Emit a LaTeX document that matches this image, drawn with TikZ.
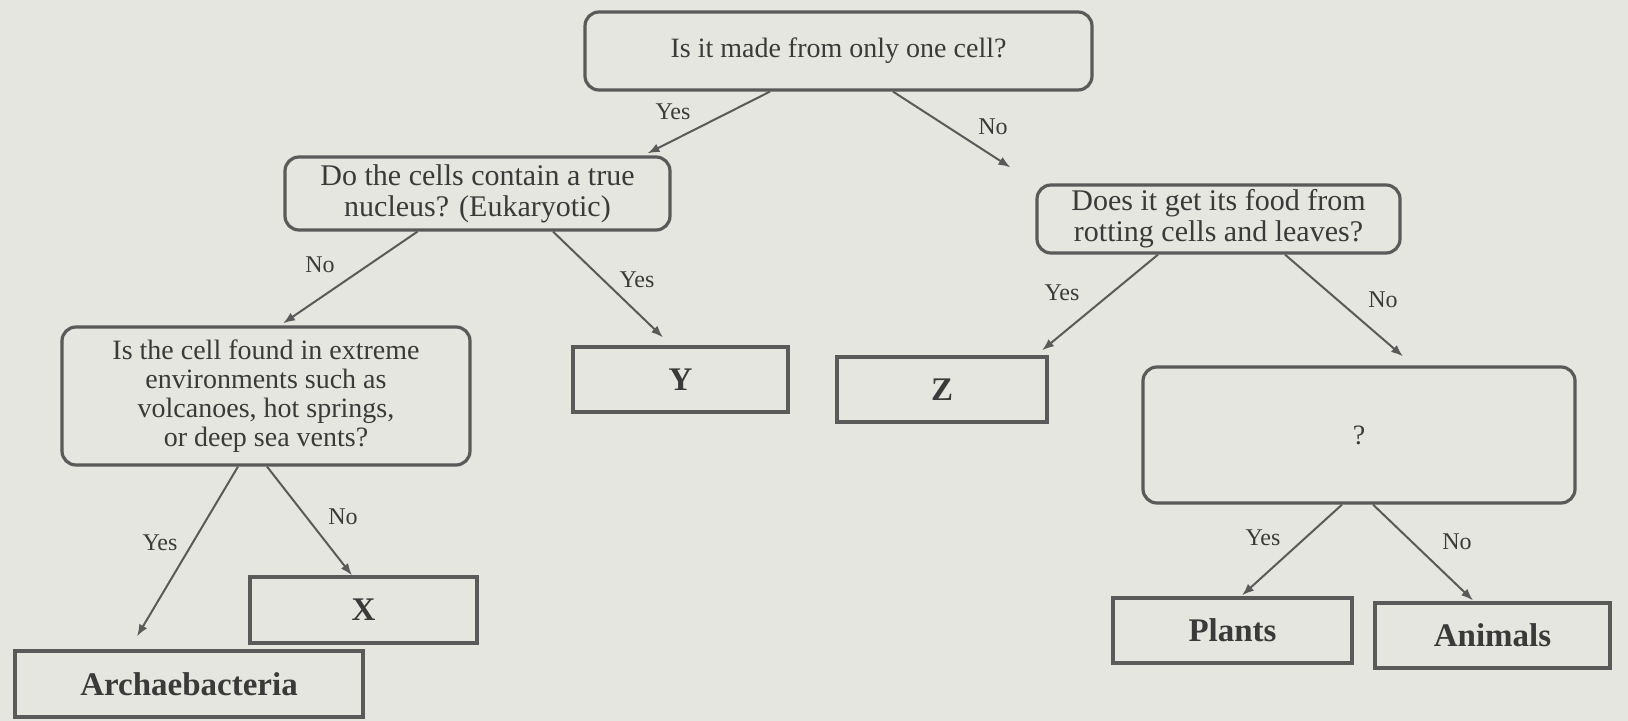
\documentclass[tikz,border=0pt]{standalone}
\usepackage{fontspec}
\setmainfont{Liberation Serif}
\usetikzlibrary{arrows.meta,calc}
\definecolor{paper}{HTML}{E6E6E0}
\definecolor{ink}{HTML}{5A5A5A}
\definecolor{txt}{HTML}{3A3A3A}
\tikzset{
  qbox/.style={draw=ink, line width=1.6pt, rounded corners=7pt, align=center, inner sep=2pt, text=txt, font=\fontsize{14}{15}\selectfont},
  abox/.style={draw=ink, line width=1.6pt, align=center, inner sep=2pt, text=txt, font=\fontsize{16.5}{18}\selectfont\bfseries},
  link/.style={draw=ink, line width=1pt, -{Latex[length=6pt,width=4.5pt]}},
  lbl/.style={text=txt, font=\fontsize{12}{13}\selectfont, inner sep=0pt}
}
\begin{document}
\begin{tikzpicture}[x=0.5pt,y=-0.5pt]
\fill[paper] (0,0) rectangle (1628,721);
\useasboundingbox (0,0) rectangle (1628,721);
% question boxes
\node[qbox, minimum width=253.5pt, minimum height=39pt] (top) at (838.5,51) {Is it made from only one cell?};
\node[qbox, minimum width=192.5pt, minimum height=36.5pt, font=\fontsize{15}{15.5}\selectfont] (q1) at (477.5,193.5) {Do the cells contain a true\\nucleus? (Eukaryotic)};
\node[qbox, minimum width=181.5pt, minimum height=34pt, font=\fontsize{15}{15.5}\selectfont] (q2) at (1218.5,219) {Does it get its food from\\rotting cells and leaves?};
\node[qbox, minimum width=204pt, minimum height=69pt, font=\fontsize{14}{14.5}\selectfont] (q3) at (266,396) {Is the cell found in extreme\\environments such as\\volcanoes, hot springs,\\or deep sea vents?};
\node[qbox, minimum width=216pt, minimum height=68pt] (q4) at (1359,435) {?};
% answer boxes
\node[abox, minimum width=107.5pt, minimum height=32.5pt] (y) at (680.5,379.5) {Y};
\node[abox, minimum width=105pt, minimum height=32.5pt] (z) at (942,389.5) {Z};
\node[abox, minimum width=113.5pt, minimum height=33pt] (x) at (363.5,610) {X};
\node[abox, minimum width=174pt, minimum height=33pt] (arch) at (189,684) {Archaebacteria};
\node[abox, minimum width=119.5pt, minimum height=32.5pt] (plants) at (1232.5,630.5) {Plants};
\node[abox, minimum width=117.5pt, minimum height=32.5pt] (animals) at (1492.5,635.5) {Animals};
% connectors
\draw[link] ($(top.south)+(-68.5,0)$) -- ($(q1.north)+(170,-2)$);
\draw[link] ($(top.south)+(54.5,0)$) -- ($(q2.north west)+(-25,-16)$);
\draw[link] ($(q1.south)+(-60,0)$) -- ($(q3.north)+(17,-2)$);
\draw[link] ($(q1.south)+(75.5,0)$) -- ($(y.north)+(-17.5,-8)$);
\draw[link] ($(q2.south)+(-60.5,0)$) -- ($(z.north)+(100,-5)$);
\draw[link] ($(q2.south)+(66.5,0)$) -- ($(q4.north)+(44,-9)$);
\draw[link] ($(q3.south)+(-28,0)$) -- ($(arch.north)+(-52,-13)$);
\draw[link] ($(q3.south)+(1,0)$) -- ($(x.north)+(-11.5,0)$);
\draw[link] ($(q4.south)+(-17,0)$) -- ($(plants.north)+(9.5,-1)$);
\draw[link] ($(q4.south)+(14,0)$) -- ($(animals.north)+(-19.5,-1)$);
% labels
\node[lbl] (l1) at (673,112) {Yes};
\node[lbl] (l2) at (993,127) {No};
\node[lbl] (l3) at (320,265) {No};
\node[lbl] (l4) at (637,280) {Yes};
\node[lbl] (l5) at (1062,293) {Yes};
\node[lbl] (l6) at (1383,300) {No};
\node[lbl] (l7) at (160,543) {Yes};
\node[lbl] (l8) at (343,517) {No};
\node[lbl] (l9) at (1263,538) {Yes};
\node[lbl] (l10) at (1457,542) {No};
\end{tikzpicture}
\end{document}
